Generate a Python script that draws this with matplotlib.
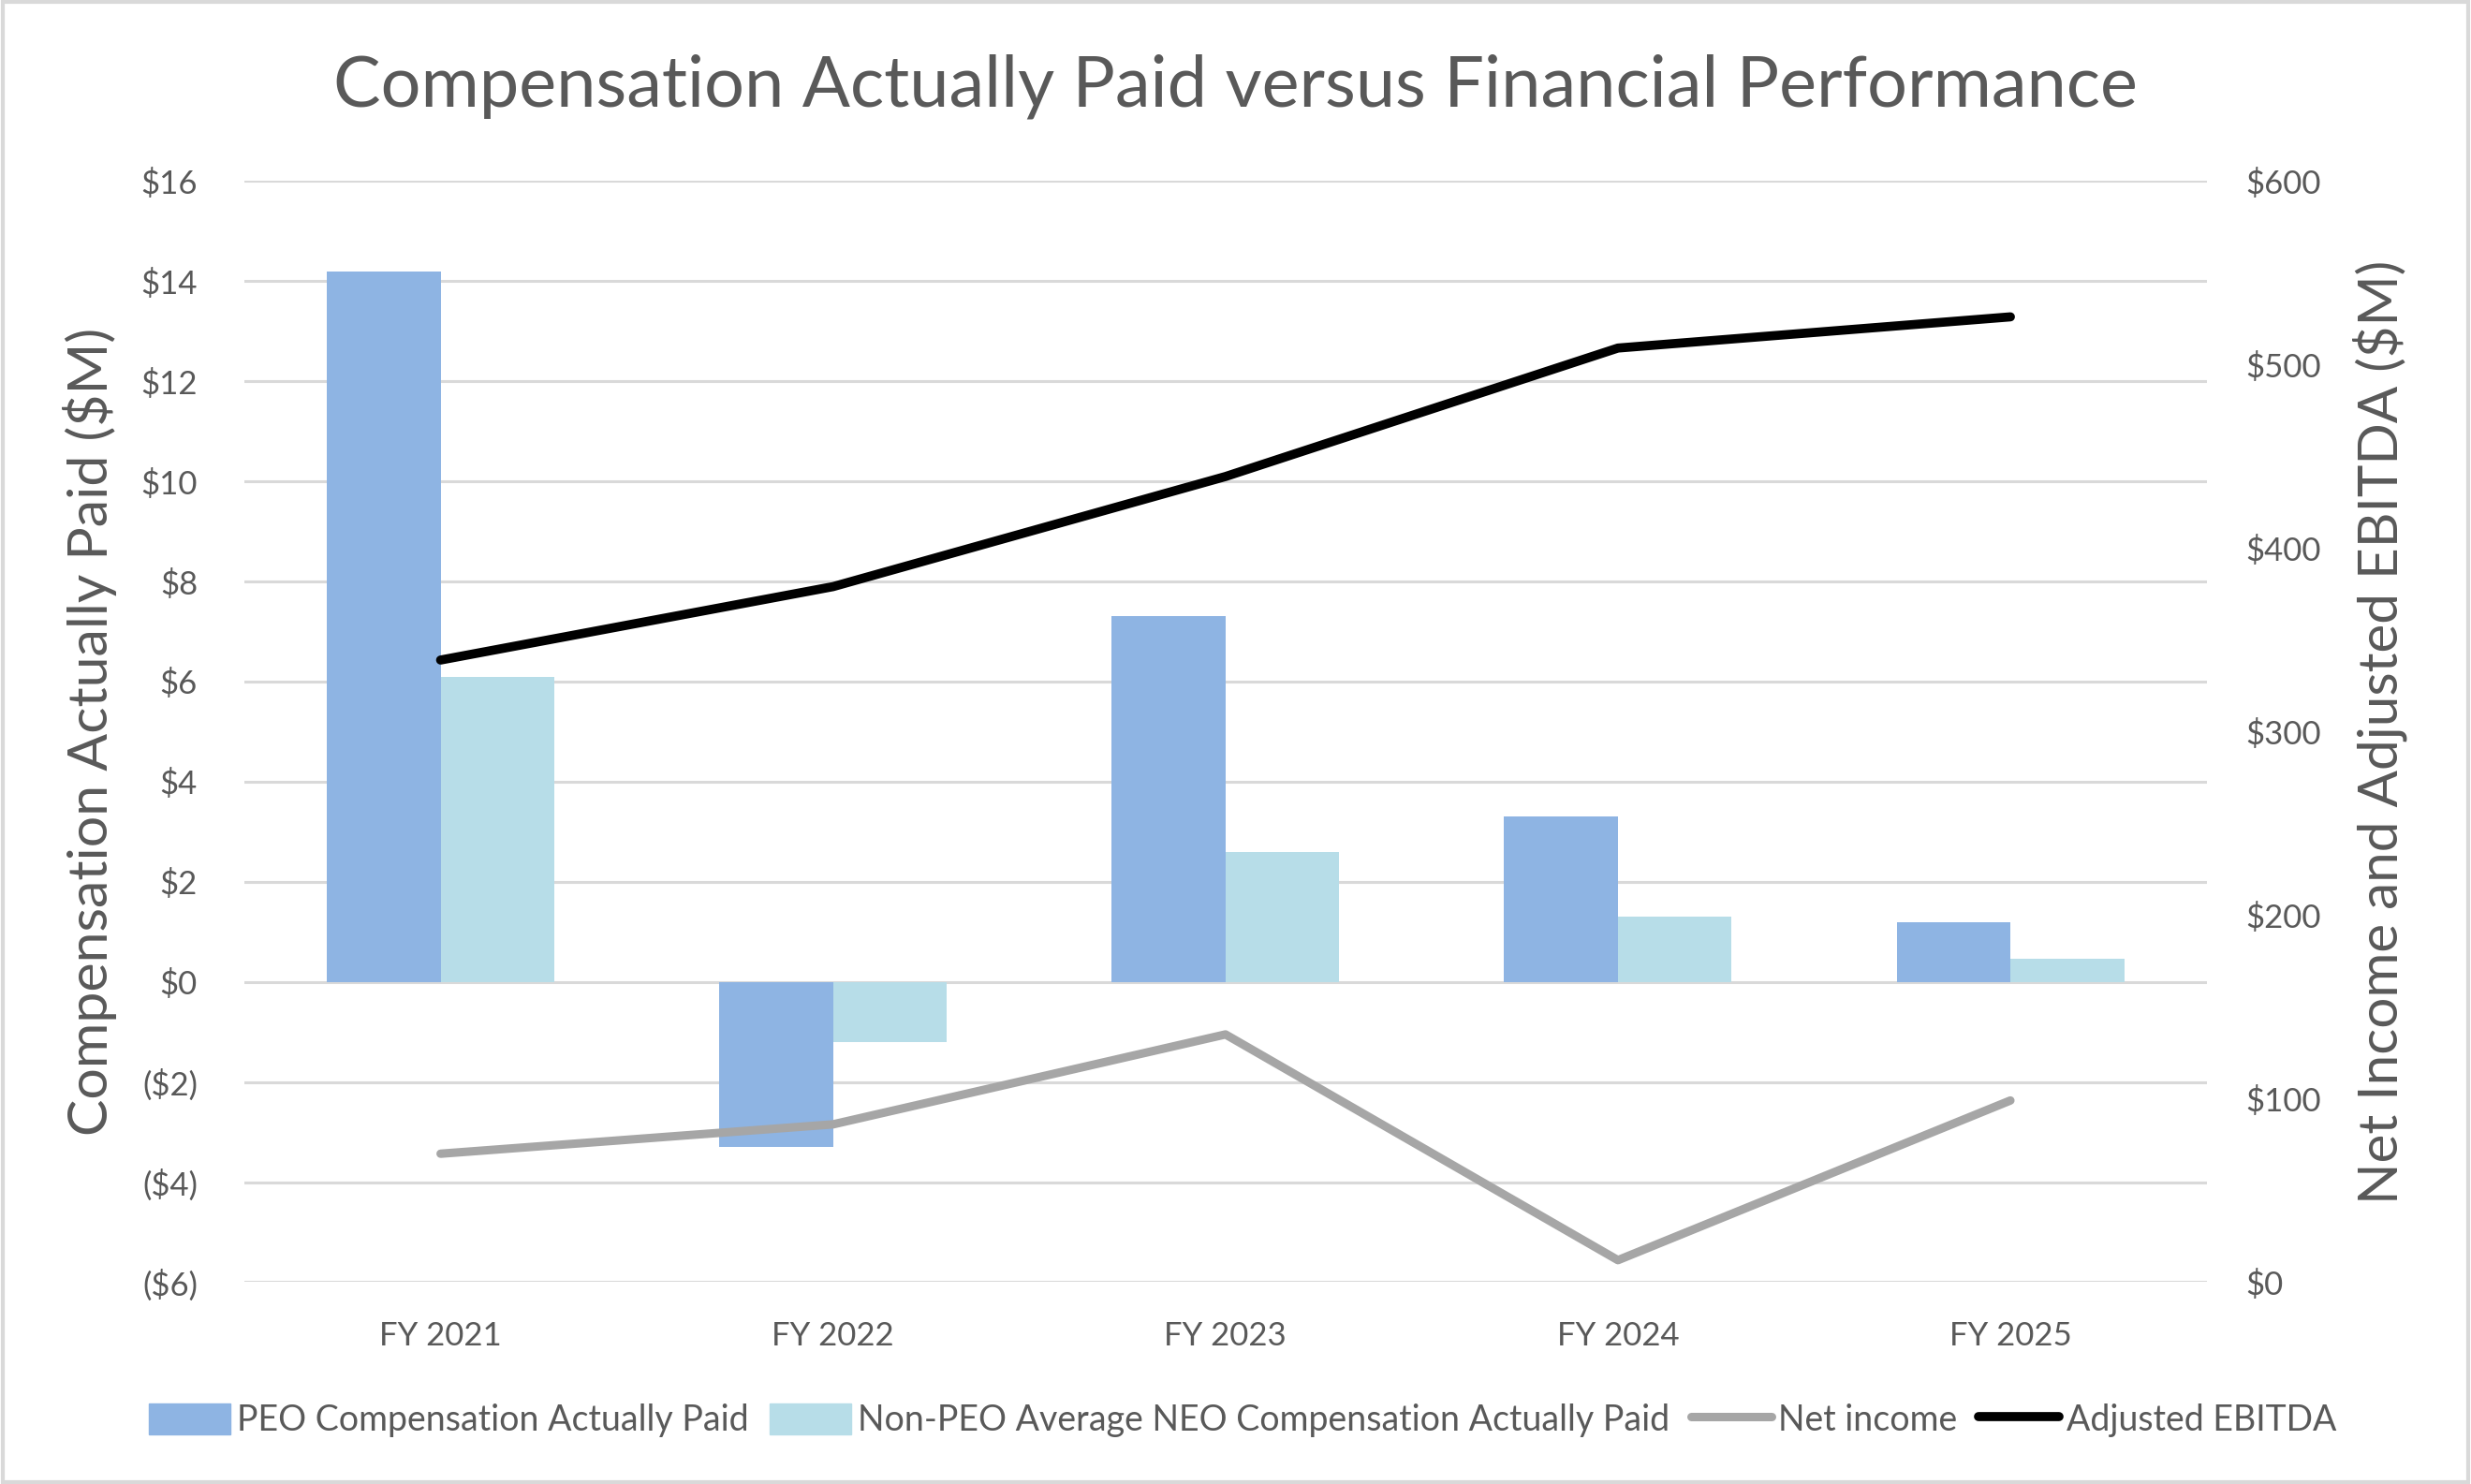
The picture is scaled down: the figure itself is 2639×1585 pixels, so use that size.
import matplotlib
import matplotlib.pyplot as plt
import numpy as np
from matplotlib.lines import Line2D
from matplotlib.patches import Patch, Rectangle
from matplotlib.ticker import FuncFormatter, MultipleLocator

matplotlib.use("Agg")

YEARS = ["FY 2021", "FY 2022", "FY 2023", "FY 2024", "FY 2025"]
PEO_CAP = [14.2, -3.3, 7.3, 3.3, 1.2]
NEO_CAP = [6.1, -1.2, 2.6, 1.3, 0.47]
NET_INCOME = [70, 86, 135, 12, 99]
ADJ_EBITDA = [339, 379, 439, 509, 526]

TEXT = "#595959"
GRID = "#D9D9D9"
plt.rcParams["font.family"] = ["Lato", "DejaVu Sans"]


def money(v, _pos):
    v = int(round(v))
    return f"(${-v})" if v < 0 else f"${v}"


fig = plt.figure(figsize=(26.39, 15.85), dpi=100)
ax = fig.add_axes([0.0989, 0.136, 0.7941, 0.742])
ax2 = ax.twinx()

x = np.arange(len(YEARS))
w = 0.29
ax.bar(x - w / 2, PEO_CAP, w, color="#8EB4E3", zorder=2)
ax.bar(x + w / 2, NEO_CAP, w, color="#B7DDE8", zorder=2)
ax2.plot(x, NET_INCOME, color="#A6A6A6", lw=6.5, solid_capstyle="round")
ax2.plot(x, ADJ_EBITDA, color="black", lw=7, solid_capstyle="round")

ax.set_xlim(-0.5, 4.5)
ax.set_ylim(-6, 16)
ax2.set_ylim(0, 600)
ax.yaxis.set_major_locator(MultipleLocator(2))
ax2.yaxis.set_major_locator(MultipleLocator(100))
ax.yaxis.set_major_formatter(FuncFormatter(money))
ax2.yaxis.set_major_formatter(FuncFormatter(money))
ax.grid(axis="y", color=GRID, lw=2.2, zorder=0)
ax.set_axisbelow(True)

for a in (ax, ax2):
    for s in a.spines.values():
        s.set_visible(False)
    a.tick_params(length=0, labelsize=25, labelcolor=TEXT)
ax.tick_params(axis="y", pad=36)
ax2.tick_params(axis="y", pad=30)
ax.tick_params(axis="x", pad=30)
ax.set_xticks(x)
ax.set_xticklabels(YEARS)

ax.set_ylabel("Compensation Actually Paid ($M)", fontsize=42.5, color=TEXT, labelpad=18)
ax2.set_ylabel("Net Income and Adjusted EBITDA ($M)", fontsize=42, color=TEXT, labelpad=24)
fig.text(0.5, 0.942, "Compensation Actually Paid versus Financial Performance",
         ha="center", va="center", fontsize=54.5, color=TEXT)

handles = [
    Patch(color="#8EB4E3", label="PEO Compensation Actually Paid"),
    Patch(color="#B7DDE8", label="Non-PEO Average NEO Compensation Actually Paid"),
    Line2D([], [], color="#A6A6A6", lw=6.5, solid_capstyle="round", label="Net income"),
    Line2D([], [], color="black", lw=7, solid_capstyle="round", label="Adjusted EBITDA"),
]
leg = fig.legend(handles=handles, loc="center", bbox_to_anchor=(0.503, 0.043), ncol=4,
                 frameon=False, fontsize=27, handlelength=2.3, handleheight=1.0,
                 handletextpad=0.2, columnspacing=0.6)
for t in leg.get_texts():
    t.set_color(TEXT)

fig.add_artist(Rectangle((0.001, 0.001), 0.998, 0.998, transform=fig.transFigure,
                         fill=False, edgecolor=GRID, lw=3))

fig.savefig("out.png", dpi=100)
